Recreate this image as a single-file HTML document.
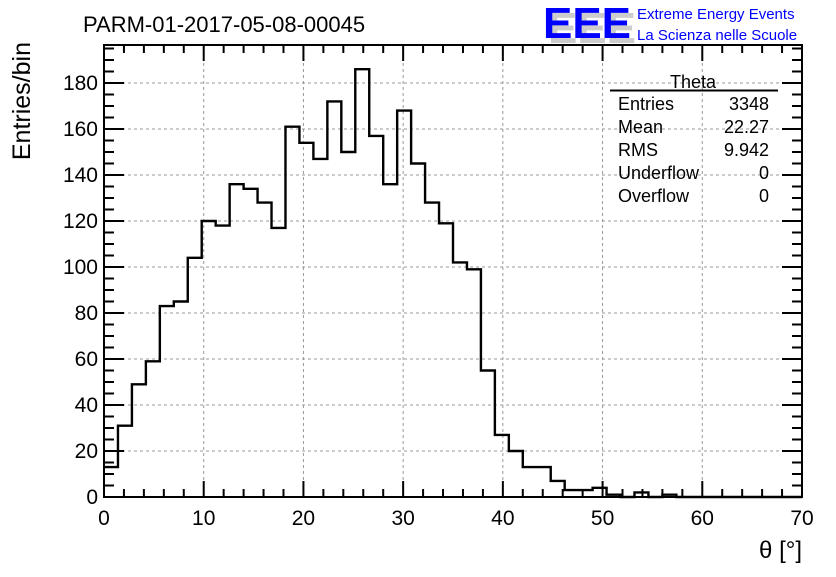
<!DOCTYPE html>
<html><head><meta charset="utf-8"><style>
body{margin:0;background:#fff;}
svg text{font-family:"Liberation Sans",sans-serif;}
</style></head><body>
<svg id="c" width="836" height="572" xmlns="http://www.w3.org/2000/svg">
<rect width="836" height="572" fill="#fff"/>
<text x="83" y="32" font-size="22">PARM-01-2017-05-08-00045</text>
<g>
<text x="548" y="43" font-size="44" font-weight="bold" fill="#ccc" textLength="88" lengthAdjust="spacingAndGlyphs">EEE</text>
<text x="543" y="38" font-size="44" font-weight="bold" fill="#00f" textLength="88" lengthAdjust="spacingAndGlyphs">EEE</text>
<text x="637" y="19" font-size="15" fill="#00f">Extreme Energy Events</text>
<text x="637" y="40" font-size="15" fill="#00f">La Scienza nelle Scuole</text>
</g>
<g id="grid"></g>
<g id="axes"></g>
<path id="hist" fill="none" stroke="#000" stroke-width="2.4"/>
<rect x="104" y="45" width="698" height="452" fill="none" stroke="#000" stroke-width="2"/>
<text x="30" y="42" font-size="25" transform="rotate(-90 30 42)" text-anchor="end">Entries/bin</text>
<text x="802" y="558" font-size="24" text-anchor="end">θ [°]</text>
<g font-size="18">
<text x="693" y="88" text-anchor="middle">Theta</text>
<line x1="610" y1="90.5" x2="778" y2="90.5" stroke="#000" stroke-width="2"/>
<text x="618" y="110">Entries</text><text x="769" y="110" text-anchor="end">3348</text>
<text x="618" y="133">Mean</text><text x="769" y="133" text-anchor="end">22.27</text>
<text x="618" y="156">RMS</text><text x="769" y="156" text-anchor="end">9.942</text>
<text x="618" y="179">Underflow</text><text x="769" y="179" text-anchor="end">0</text>
<text x="618" y="202">Overflow</text><text x="769" y="202" text-anchor="end">0</text>
</g>
</svg>
<script>
const counts = [13,31,49,59,83,85,104,120,118,136,134,128,117,161,154,147,172,150,186,157,136,168,145,128,119,102,99,55,27,20,13,13,7,3,3,4,1,0,2,0,1,0,0,0,0,0,0,0,0,0];
const binWidth = 1.4;
const xTicks = [0,10,20,30,40,50,60,70];
const yTicks = [0,20,40,60,80,100,120,140,160,180];
const X0=104,X1=802,Y0=497,YT=45;
const xs=v=>X0+(v/70)*(X1-X0);
const ys=v=>Y0-v*2.3;
const NS='http://www.w3.org/2000/svg';
function mk(tag,attrs,parent){const e=document.createElementNS(NS,tag);for(const k in attrs)e.setAttribute(k,attrs[k]);parent.appendChild(e);return e;}
const grid=document.getElementById('grid'),axes=document.getElementById('axes');
xTicks.forEach(t=>{
  if(t>0&&t<70){const l=mk('line',{x1:xs(t),x2:xs(t),y1:YT,y2:Y0,stroke:'#999','stroke-dasharray':'3,3'},grid);
  
  }
  const tx=mk('text',{x:xs(t),y:525,'font-size':21,'text-anchor':'middle'},axes);tx.textContent=t;
  
  
});
yTicks.forEach(t=>{
  if(t>0){const l=mk('line',{x1:X0,x2:X1,y1:ys(t),y2:ys(t),stroke:'#999','stroke-dasharray':'3,3'},grid);
  
  }
  const tx=mk('text',{x:98,y:ys(t)+7,'font-size':21,'text-anchor':'end'},axes);tx.textContent=t;
  
  
});
for(let v=0;v<=70;v+=2){const L=v%10===0?16:8;
  mk('line',{x1:xs(v),x2:xs(v),y1:Y0,y2:Y0-L,stroke:'#000','stroke-width':2},axes);
  mk('line',{x1:xs(v),x2:xs(v),y1:YT,y2:YT+L,stroke:'#000','stroke-width':2},axes);}
for(let v=0;v<=195;v+=5){const y=ys(v);if(y<YT)break;const L=v%20===0?20:10;
  mk('line',{x1:X0,x2:X0+L,y1:y,y2:y,stroke:'#000','stroke-width':2},axes);
  mk('line',{x1:X1,x2:X1-L,y1:y,y2:y,stroke:'#000','stroke-width':2},axes);}
let d='M'+xs(0)+','+ys(counts[0]);
counts.forEach((c,i)=>{d+=' L'+xs(i*binWidth)+','+ys(c)+' L'+xs((i+1)*binWidth)+','+ys(c);});
document.getElementById('hist').setAttribute('d',d);
</script>
</body></html>
